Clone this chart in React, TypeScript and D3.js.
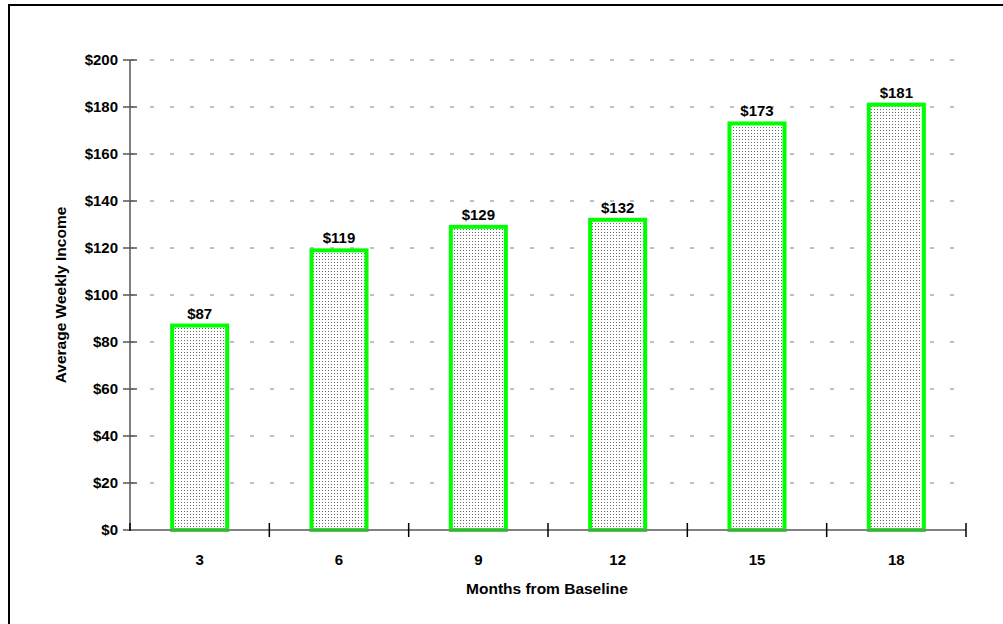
import React from "react";
import * as d3 from "d3";

// Average weekly income by follow-up month
const months = ["3", "6", "9", "12", "15", "18"];
const income = [87, 119, 129, 132, 173, 181];
const yTicks = [0, 20, 40, 60, 80, 100, 120, 140, 160, 180, 200];

const W = 1003;
const H = 624;
const FONT = "'Liberation Sans', Arial, sans-serif";
const FS = 15;

export default function App() {
  const x = d3.scaleBand<string>().domain(months).range([130, 966]).paddingInner(0).paddingOuter(0);
  const y = d3.scaleLinear().domain([0, 200]).range([530, 60]);
  const barW = x.bandwidth() * 0.395;
  const boundaries = [...months.map((m) => x(m)!), 966];

  return (
    <svg
      width={W}
      height={H}
      style={{ position: "absolute", left: 0, top: 0, background: "#fff" }}
      fontFamily={FONT}
    >
      <defs>
        <pattern id="dots" width={3} height={3} patternUnits="userSpaceOnUse">
          <rect width={3} height={3} fill="#fff" />
          <rect x={1} y={1} width={1} height={1} fill="#6a6a6a" />
        </pattern>
      </defs>

      {/* outer frame */}
      <rect x={9} y={5} width={1200} height={1000} fill="none" stroke="#000" strokeWidth={2} />

      {/* gridlines */}
      {yTicks.filter((t) => t > 0).map((t) => (
        <line
          key={"g" + t}
          x1={130}
          x2={966}
          y1={y(t)}
          y2={y(t)}
          stroke="#808080"
          strokeWidth={1}
          strokeDasharray="4 16"
        />
      ))}

      {/* y axis */}
      <line x1={130} x2={130} y1={y(200)} y2={y(0)} stroke="#808080" strokeWidth={2} />
      {yTicks.map((t) => (
        <g key={"yt" + t}>
          <line x1={123} x2={137} y1={y(t)} y2={y(t)} stroke="#555" strokeWidth={1.5} />
          <text
            x={118}
            y={y(t)}
            dy="0.36em"
            textAnchor="end"
            fontSize={FS}
            fontWeight="bold"
            fill="#000"
          >
            {"$" + t}
          </text>
        </g>
      ))}

      {/* bars */}
      {months.map((m, i) => {
        const cx = x(m)! + x.bandwidth() / 2;
        return (
          <g key={"b" + m}>
            <rect
              x={cx - barW / 2}
              y={y(income[i])}
              width={barW}
              height={y(0) - y(income[i])}
              fill="url(#dots)"
              stroke="#00ff00"
              strokeWidth={4}
            />
            <text
              x={cx}
              y={y(income[i]) - 7}
              textAnchor="middle"
              fontSize={FS}
              fontWeight="bold"
              fill="#000"
            >
              {"$" + income[i]}
            </text>
          </g>
        );
      })}

      {/* x axis */}
      <line x1={130} x2={966} y1={y(0)} y2={y(0)} stroke="#808080" strokeWidth={2} />
      {boundaries.map((bx, i) => (
        <line
          key={"xt" + i}
          x1={bx}
          x2={bx}
          y1={523}
          y2={i === 0 ? 531 : 537}
          stroke="#000"
          strokeWidth={1.5}
        />
      ))}
      {months.map((m) => (
        <text
          key={"xl" + m}
          x={x(m)! + x.bandwidth() / 2}
          y={565}
          textAnchor="middle"
          fontSize={FS}
          fontWeight="bold"
          fill="#000"
        >
          {m}
        </text>
      ))}

      {/* axis titles */}
      <text x={547} y={594} textAnchor="middle" fontSize={15.5} fontWeight="bold" fill="#000">
        Months from Baseline
      </text>
      <text
        transform={`translate(66,${(y(0) + y(200)) / 2}) rotate(-90)`}
        textAnchor="middle"
        fontSize={15.5}
        fontWeight="bold"
        fill="#000"
      >
        Average Weekly Income
      </text>
    </svg>
  );
}
